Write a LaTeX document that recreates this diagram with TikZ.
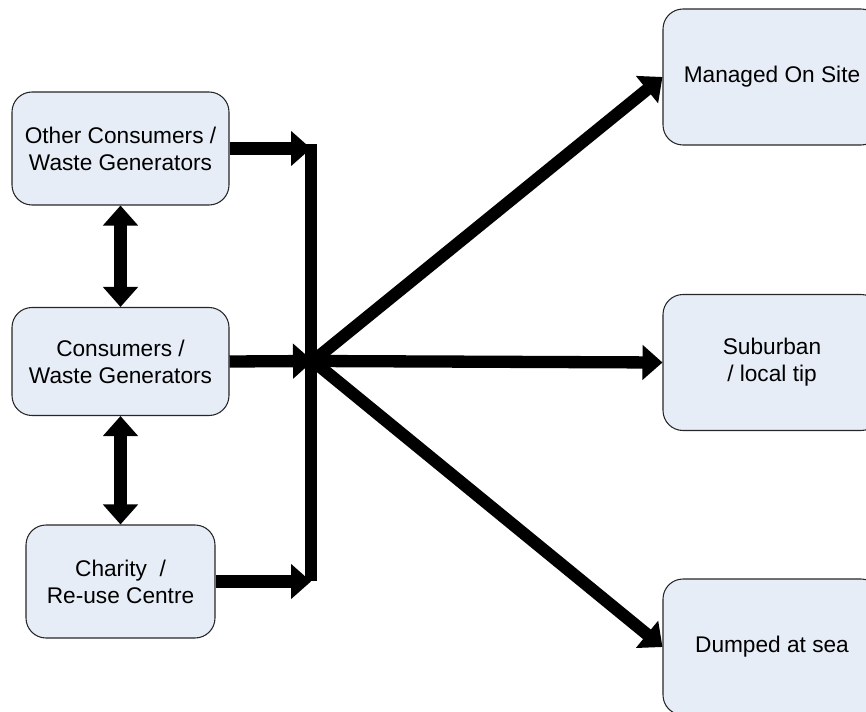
\documentclass[tikz,border=0pt]{standalone}
\usepackage{fontspec}
\setmainfont{Liberation Sans}
\usetikzlibrary{arrows.meta}
\definecolor{boxfill}{HTML}{E7EDF7}
\begin{document}
\begin{tikzpicture}
    \tikzstyle{source} = [rectangle, draw=black!85, fill=boxfill, rounded corners=0.4cm, align=center, inner sep=0pt, line width=0.6pt, font=\fontsize{12.9}{15.4}\selectfont]
    \tikzstyle{sink} = [source, minimum width=4.36cm, minimum height=2.72cm]
    \tikzstyle{flow} = [line width=7pt, -{Triangle[length=0.4cm,width=0.68cm]}]
    \tikzstyle{swap} = [line width=7pt, {Triangle[length=0.4cm,width=0.68cm]}-{Triangle[length=0.4cm,width=0.68cm]}]

    \useasboundingbox (0,0) rectangle (17.32,14.22);
    \clip (0,0) rectangle (17.32,14.22);

    \node [source, minimum width=4.34cm, minimum height=2.26cm] (other)   at (2.41,11.25) {Other Consumers /\\Waste Generators};
    \node [source, minimum width=4.34cm, minimum height=2.16cm] (cons)    at (2.41,6.99)  {Consumers /\\Waste Generators};
    \node [source, minimum width=3.78cm, minimum height=2.26cm] (charity) at (2.41,2.59)  {Charity~~/\\Re-use Centre};

    \node [sink] (managed)  at (15.44,12.68) {Managed On Site};
    \node [sink] (suburban) at (15.44,6.97)  {Suburban\\/ local tip};
    \node [sink] (dumped)   at (15.44,1.28)  {Dumped at sea};

    \coordinate (bartop) at (6.22,11.34);
    \coordinate (barbot) at (6.22,2.6);
    \coordinate (hub)    at (6.26,7.0);

    \draw [line width=7pt] (bartop) -- (barbot);
    \draw [flow] (other.east) -- (other.east -| bartop);
    \draw [flow] (charity.east) -- (charity.east -| barbot);
    \draw [flow] (cons.east) -- (hub);
    \draw [flow] (hub) -- (managed.west);
    \draw [flow] (hub) -- (suburban.west);
    \draw [flow] (hub) -- (dumped.west);
    \draw [swap] (other) -- (cons);
    \draw [swap] (cons) -- (charity);
\end{tikzpicture}
\end{document}
